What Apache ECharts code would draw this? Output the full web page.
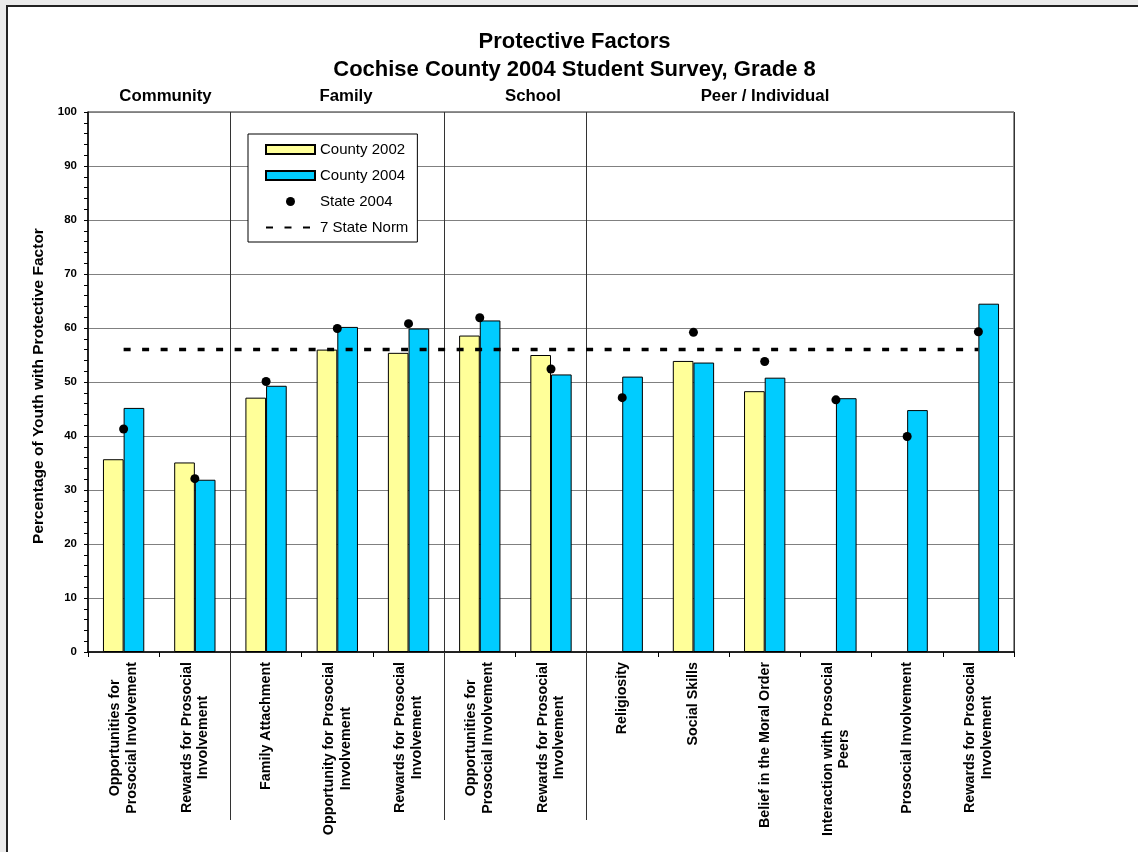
<!DOCTYPE html>
<html>
<head>
<meta charset="utf-8">
<script src="https://cdn.jsdelivr.net/npm/echarts@6/dist/echarts.min.js"></script>
<style>
html, body { margin: 0; padding: 0; background: #ebebeb; width: 1138px; height: 852px; overflow: hidden; }
#frame { position: absolute; left: 6px; top: 5px; width: 1200px; height: 900px; background: #ffffff; border-left: 2px solid #222; border-top: 2px solid #222; }
#chart { position: absolute; left: 0; top: 0; width: 1138px; height: 852px; }
</style>
</head>
<body>
<div id="frame"></div>
<div id="chart"></div>
<script>
const categories = [
  "Opportunities for\nProsocial Involvement",
  "Rewards for Prosocial\nInvolvement",
  "Family Attachment",
  "Opportunity for Prosocial\nInvolvement",
  "Rewards for Prosocial\nInvolvement",
  "Opportunities for\nProsocial Involvement",
  "Rewards for Prosocial\nInvolvement",
  "Religiosity",
  "Social Skills",
  "Belief in the Moral Order",
  "Interaction with Prosocial\nPeers",
  "Prosocial Involvement",
  "Rewards for Prosocial\nInvolvement"
];
const county2002 = [35.7, 35.1, 47.1, 56.0, 55.4, 58.6, 55.0, null, 53.9, 48.3, null, null, null];
const county2004 = [45.2, 31.9, 49.3, 60.2, 59.9, 61.4, 51.4, 51.0, 53.6, 50.8, 47.0, 44.8, 64.5];
const state2004  = [41.3, 32.1, 50.1, 59.9, 60.8, 61.9, 52.4, 47.1, 59.2, 53.8, 46.7, 39.9, 59.3];
const stateNorm  = [56, 56, 56, 56, 56, 56, 56, 56, 56, 56, 56, 56, 56];
const groupBoundaries = [2, 5, 7];
const groups = ["Community", "Family", "School", "Peer / Individual"];
const yTicks = [0, 10, 20, 30, 40, 50, 60, 70, 80, 90, 100];

const FONT = '"Liberation Sans", Arial, sans-serif';
const chart = echarts.init(document.getElementById('chart'));

const groupX = [165.5, 346, 533, 765];

chart.setOption({
  animation: false,
  textStyle: { fontFamily: FONT },
  title: {
    text: 'Protective Factors\nCochise County 2004 Student Survey, Grade 8',
    left: 574.5, textAlign: 'center', top: 28, padding: 0,
    textStyle: { fontFamily: FONT, fontSize: 22, fontWeight: 'bold', color: '#000', lineHeight: 28 }
  },
  graphic: groups.map((g, i) => ({
    type: 'text', x: groupX[i], y: 88,
    style: { text: g, font: 'bold 16.8px ' + FONT, fill: '#000', textAlign: 'center' }
  })),
  legend: {
    orient: 'vertical', left: 248, top: 134,
    padding: [8, 9, 7, 17], itemGap: 11, itemWidth: 49, itemHeight: 9,
    backgroundColor: '#fff', borderColor: '#000', borderWidth: 1, borderRadius: 0,
    textStyle: { fontFamily: FONT, fontSize: 15, color: '#000' },
    data: [
      { name: 'County 2002', icon: 'rect' },
      { name: 'County 2004', icon: 'rect' },
      { name: 'State 2004', icon: 'circle' },
      { name: '7 State Norm', itemStyle: { color: 'rgba(0,0,0,0)', opacity: 0, borderWidth: 0 } }
    ]
  },
  grid: { left: 88, right: 124, top: 112, bottom: 200, show: true, borderColor: '#222', borderWidth: 1, backgroundColor: 'transparent' },
  xAxis: [{
    type: 'category', data: categories, boundaryGap: true,
    axisLine: { lineStyle: { color: '#000', width: 1.5 } },
    axisTick: { show: true, length: 5, lineStyle: { color: '#000' } },
    splitLine: { show: true, interval: (i) => groupBoundaries.indexOf(i) >= 0, lineStyle: { color: '#333', width: 1 } },
    axisLabel: {
      interval: 0, rotate: 90, margin: 10,
      formatter: (v) => v.split('\n').map(s => '{c|' + s + '}').join('\n'),
      rich: { c: { align: 'center', fontFamily: FONT, fontSize: 14.3, fontWeight: 'bold', color: '#000', lineHeight: 16.5 } }
    }
  }, {
    type: 'value', min: 0, max: categories.length, position: 'bottom',
    axisLine: { show: false },
    axisTick: { show: true, inside: false, length: 168, customValues: groupBoundaries, lineStyle: { color: '#333', width: 1 } },
    axisLabel: { show: false },
    splitLine: { show: false }
  }],
  yAxis: {
    type: 'value', min: 0, max: 100, interval: 10,
    name: 'Percentage of Youth with Protective Factor', nameLocation: 'middle', nameGap: 39, nameRotate: 90,
    nameTextStyle: { fontFamily: FONT, fontSize: 15.5, fontWeight: 'bold', color: '#000', padding: [0, 8, 0, 0] },
    axisLine: { show: true, lineStyle: { color: '#000', width: 1.5 } },
    axisTick: { show: true, length: 4, lineStyle: { color: '#000' } },
    minorTick: { show: true, splitNumber: 5, length: 4, lineStyle: { color: '#000' } },
    splitLine: { show: true, lineStyle: { color: '#808080', width: 1 } },
    axisLabel: { margin: 11, fontFamily: FONT, fontSize: 11.5, fontWeight: 'bold', color: '#000',
      formatter: (v) => yTicks.indexOf(v) >= 0 ? String(v) : '' }
  },
  series: [
    { name: 'County 2002', type: 'bar', data: county2002, barWidth: '29%', barGap: '0%',
      itemStyle: { color: '#FFFF99', borderColor: '#000', borderWidth: 1 } },
    { name: 'County 2004', type: 'bar', data: county2004, barWidth: '29%', barGap: '0%',
      itemStyle: { color: '#00CCFF', borderColor: '#000', borderWidth: 1 } },
    { name: 'State 2004', type: 'scatter', data: state2004, symbol: 'circle', symbolSize: 9, z: 5,
      itemStyle: { color: '#000', opacity: 1 } },
    { name: '7 State Norm', type: 'line', data: stateNorm, symbol: 'none', z: 4,
      lineStyle: { color: '#000', width: 3.5, type: [7, 11.5] }, itemStyle: { color: '#000' } }
  ]
});
</script>
</body>
</html>
